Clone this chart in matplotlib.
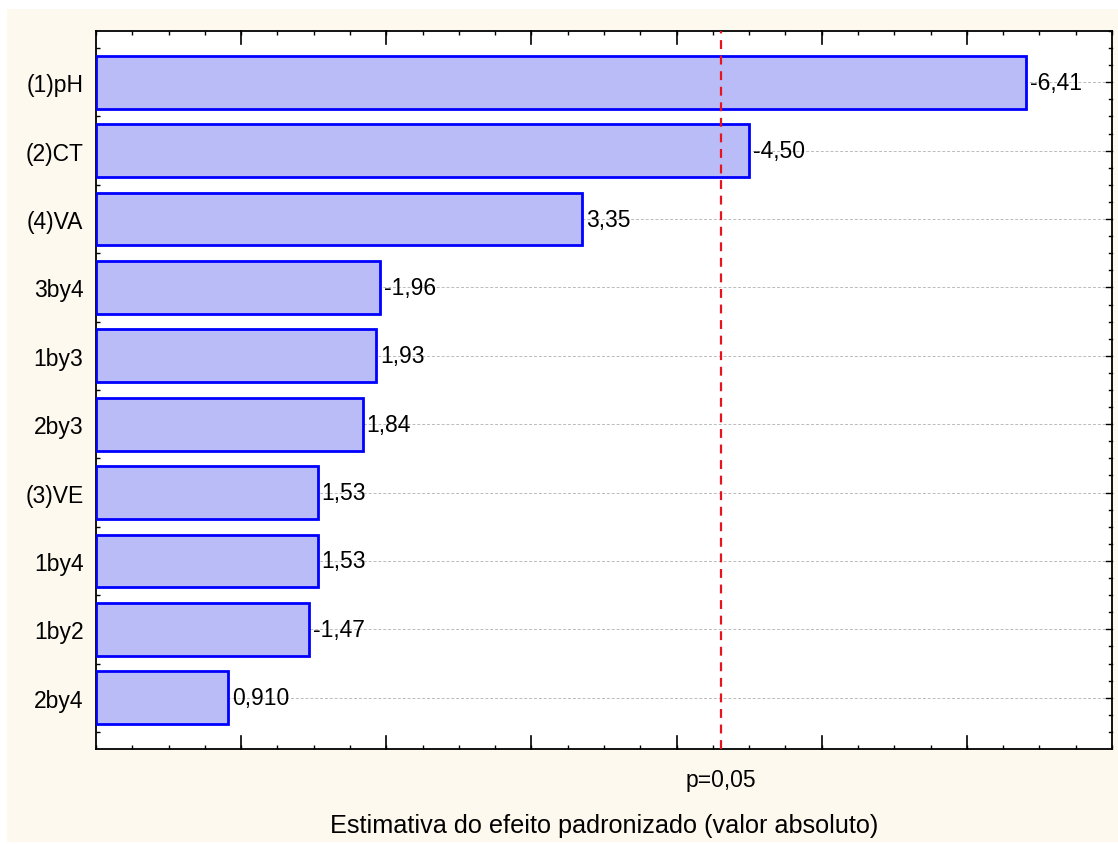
import matplotlib
matplotlib.use("Agg")
import matplotlib.pyplot as plt
from matplotlib.patches import Rectangle
from matplotlib.ticker import MultipleLocator
import numpy as np

plt.rcParams['font.family'] = ['Liberation Sans', 'DejaVu Sans']

#%% Pareto data (standardized effects, sorted by absolute value)

effects = ['(1)pH', '(2)CT', '(4)VA', '3by4', '1by3', '2by3', '(3)VE', '1by4', '1by2', '2by4']
values = [-6.41, -4.50, 3.35, -1.96, 1.93, 1.84, 1.53, 1.53, -1.47, 0.910]
value_labels = ['-6,41', '-4,50', '3,35', '-1,96', '1,93', '1,84', '1,53', '1,53', '-1,47', '0,910']
t_crit = 4.303          # p = 0.05 cut-off
t_crit_label = 'p=0,05'

fs = 16.5

#%% Figure

fig = plt.figure(figsize=(11.18, 8.45), dpi=100)
fig.patch.set_facecolor('white')
fig.patches.append(Rectangle((7/1118, 2/845), 1 - 7/1118, 1 - 12/845,
                             transform=fig.transFigure, facecolor='#fdf9ee',
                             edgecolor='none', zorder=-10))

ax = fig.add_axes([96/1118, 1 - 750/845, (1112 - 96)/1118, (750 - 32)/845])
ax.set_facecolor('white')

ypos = np.arange(len(effects))
absvals = np.abs(values)

ax.barh(ypos, absvals, height=0.77, color='#babcf7', edgecolor='#0000ff',
        linewidth=2.0, zorder=3)

for y, v, lab in zip(ypos, absvals, value_labels):
    ax.text(v + 0.025, y, lab, ha='left', va='center', fontsize=fs, zorder=4)

ax.axvline(t_crit, color='#e8141c', linestyle=(0, (4, 3)), linewidth=1.6, zorder=5)

ax.set_xlim(0, 7)
ax.set_ylim(len(effects) - 0.25, -0.75)

# horizontal grid at each effect
for y in ypos:
    ax.axhline(y, color='#bbbbbb', linestyle=(0, (3, 2)), linewidth=0.7, zorder=1)

ax.set_yticks(ypos)
ax.set_yticklabels(effects, fontsize=fs)
ax.yaxis.set_minor_locator(MultipleLocator(0.5))

ax.set_xticks([t_crit])
ax.set_xticklabels([t_crit_label], fontsize=fs)
ax.xaxis.set_minor_locator(MultipleLocator(0.25))

ax.tick_params(axis='both', which='both', direction='in', color='black')
ax.tick_params(axis='x', which='major', length=0, pad=14)
ax.tick_params(axis='y', which='major', length=5, width=1.2, pad=9)
ax.tick_params(axis='y', which='minor', length=3, width=1.0)
ax.tick_params(axis='x', which='minor', length=3, width=1.0, top=True)

# major x ticks (whole units) drawn on top and bottom
for xv in range(1, 7):
    ax.plot([xv, xv], [0, 0.018], color='black', linewidth=1.2,
            transform=ax.get_xaxis_transform(), clip_on=False, zorder=6)
    ax.plot([xv, xv], [1, 1 - 0.018], color='black', linewidth=1.2,
            transform=ax.get_xaxis_transform(), clip_on=False, zorder=6)

# right-side ticks at quarter steps
for yv in np.arange(-0.75, len(effects) - 0.25, 0.25):
    ln = 0.006 if abs(yv - round(yv)) < 1e-6 else 0.003
    ax.plot([1, 1 - ln], [yv, yv], color='black', linewidth=1.0,
            transform=ax.get_yaxis_transform(), clip_on=False, zorder=6)

for sp in ax.spines.values():
    sp.set_linewidth(1.3)
    sp.set_color('black')

fig.text(604 / 1118, 1 - 826/845, 'Estimativa do efeito padronizado (valor absoluto)',
         ha='center', va='center', fontsize=18.2)

fig.savefig('out.png', dpi=100)
